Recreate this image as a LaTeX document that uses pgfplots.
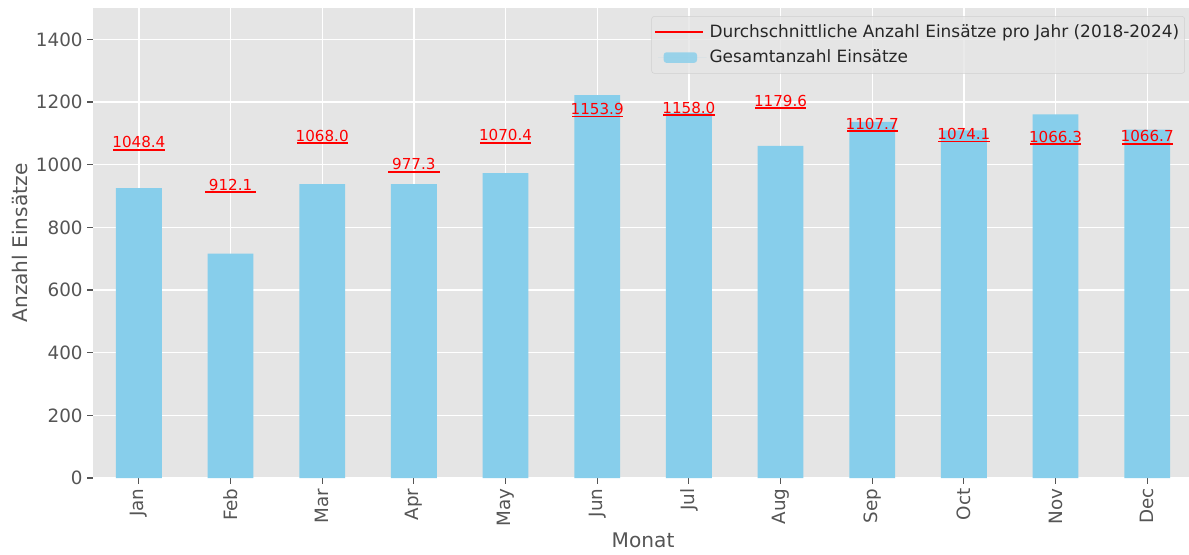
\documentclass[border=0pt]{standalone}
\usepackage{pgfplots}
\pgfplotsset{compat=1.18}
\usepackage{fontspec}
\setmainfont{DejaVu Sans}
\definecolor{bg}{HTML}{E5E5E5}
\definecolor{sky}{HTML}{87CEEB}
\definecolor{tickgray}{HTML}{555555}
\begin{document}
\begin{tikzpicture}
\begin{axis}[
  name=ax,
  scale only axis,
  width=792pt, height=338.4pt,
  xmin=-0.5, xmax=11.5, ymin=0, ymax=1500,
  axis background/.style={fill=bg},
  axis line style={draw=none},
  grid=major,
  major grid style={white, line width=1pt},
  xtick={0,1,2,3,4,5,6,7,8,9,10,11},
  xticklabels={Jan,Feb,Mar,Apr,May,Jun,Jul,Aug,Sep,Oct,Nov,Dec},
  ytick={0,200,400,600,800,1000,1200,1400},
  tick pos=left,
  tick align=outside,
  major tick length=4pt,
  tick style={tickgray, line width=0.8pt},
  x tick label style={rotate=90, anchor=east, font=\fontsize{13.2}{15}\selectfont, text=tickgray},
  y tick label style={font=\fontsize{13.2}{15}\selectfont, text=tickgray},
  /pgf/number format/assume math mode=true,
  /pgf/number format/1000 sep={},
  xlabel={Monat},
  ylabel={Anzahl Einsätze},
  xlabel style={at={([yshift=-44.6pt]axis description cs:0.5,0)}, anchor=center, font=\fontsize{14.5}{17}\selectfont, text=tickgray},
  ylabel style={at={([xshift=-52.6pt]axis description cs:0,0.5)}, anchor=center, font=\fontsize{14.5}{17}\selectfont, text=tickgray},
  reverse legend,
  legend cell align=left,
  legend style={at={(rel axis cs:1,1)}, anchor=north east, xshift=-5.8pt, yshift=-5.8pt,
    fill=bg, fill opacity=0.8, text opacity=1, draw=black!18, rounded corners=2pt,
    font=\fontsize{12.2}{14}\selectfont, text=black!85, row sep=3.5pt, inner xsep=2pt, inner ysep=4pt},
]
\addplot[ybar, bar width=0.5, bar shift=0pt, fill=sky, draw=none,
  legend image code/.code={\path (3pt,0pt) -- (38pt,0pt); \fill[sky] (7pt,-3.8pt) rectangle (31pt,3.8pt);}]
  coordinates {(0,925) (1,716) (2,938) (3,938) (4,973) (5,1222) (6,1165) (7,1060) (8,1137) (9,1110) (10,1161) (11,1112)};
\addlegendentry{Gesamtanzahl Einsätze}
\addplot[red, draw=none, no marks,
  legend image code/.code={\path (3pt,0pt) -- (38pt,0pt); \draw[red, line width=1.4pt] (1pt,0pt) -- (35pt,0pt);},
  error bars/.cd, x dir=both, x fixed=0.28, error mark=none,
  error bar style={red, line width=1.4pt}]
  coordinates {(0,1048.4) (1,912.1) (2,1068.0) (3,977.3) (4,1070.4) (5,1153.9) (6,1158.0) (7,1179.6) (8,1107.7) (9,1074.1) (10,1066.3) (11,1066.7)};
\addlegendentry{Durchschnittliche Anzahl Einsätze pro Jahr (2018-2024)}
\addplot[draw=none, no marks, forget plot,
  nodes near coords, point meta=y,
  nodes near coords style={red, font=\fontsize{10.9}{13}\selectfont, anchor=south, inner sep=1pt,
    /pgf/number format/.cd, fixed, fixed zerofill, precision=1, 1000 sep={}}]
  coordinates {(0,1048.4) (1,912.1) (2,1068.0) (3,977.3) (4,1070.4) (5,1153.9) (6,1158.0) (7,1179.6) (8,1107.7) (9,1074.1) (10,1066.3) (11,1066.7)};
\end{axis}
\pgfresetboundingbox
\path[use as bounding box] ([xshift=-67pt, yshift=-54.7pt]ax.south west) rectangle ([xshift=-2.9pt, yshift=5.8pt]ax.north east);
\end{tikzpicture}
\end{document}
